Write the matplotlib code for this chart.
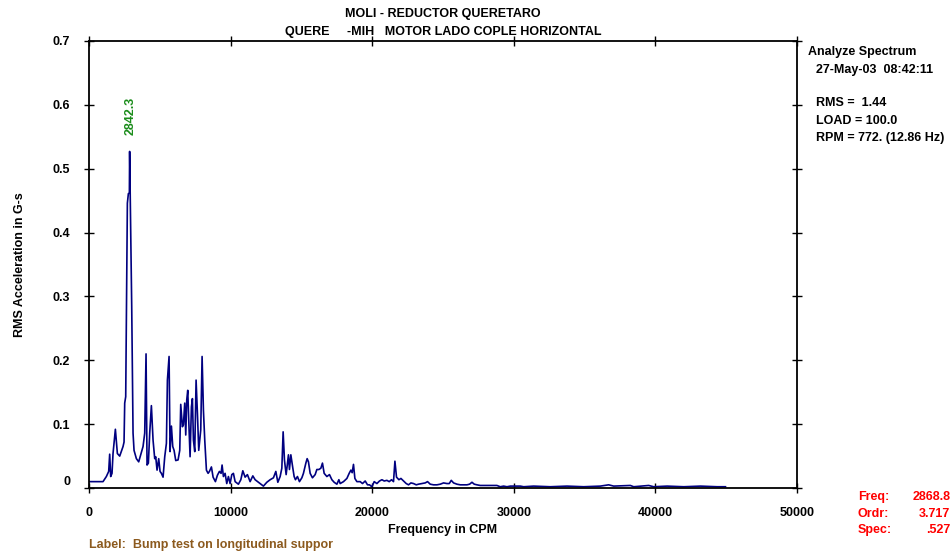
"""
Vibration spectrum - MOLI reductor Queretaro, motor lado cople horizontal
"""

import matplotlib
matplotlib.use("Agg")
import matplotlib.pyplot as plt

plt.rcParams["font.family"] = ["Liberation Sans", "DejaVu Sans"]
plt.rcParams["font.weight"] = "bold"

# spectrum points (CPM, G-s RMS)
freq_cpm = [0, 989, 1225, 1390, 1460, 1531, 1625, 1696, 1862, 2003, 2168, 2403, 2474,
            2521, 2592, 2709, 2780, 2850, 2869, 3016, 3110, 3180, 3345, 3510, 3651,
            3816, 3934, 4028, 4099, 4193, 4287, 4405, 4523, 4640, 4711, 4805, 4923,
            5017, 5112, 5230, 5348, 5466, 5537, 5654, 5724, 5819, 5913, 6007, 6125,
            6290, 6408, 6478, 6596, 6667, 6761, 6832, 6903, 6973, 7044, 7138, 7232,
            7303, 7374, 7468, 7562, 7656, 7750, 7891, 7986, 8080, 8174, 8292, 8410,
            8504, 8645, 8763, 8927, 9068, 9209, 9328, 9398, 9492, 9611, 9728, 9845,
            9964, 10085, 10198, 10319, 10551, 10721, 10862, 11025, 11187, 11378,
            11569, 11731, 11965, 12318, 12558, 12791, 13025, 13194, 13335, 13498,
            13618, 13710, 13802, 13922, 14014, 14085, 14155, 14254, 14325, 14395,
            14487, 14579, 14720, 14862, 15032, 15144, 15314, 15406, 15498, 15618,
            15780, 15971, 16091, 16233, 16374, 16487, 16607, 16798, 16982, 17152,
            17314, 17505, 17646, 17738, 17972, 18212, 18374, 18494, 18586, 18678,
            18777, 18918, 19152, 19314, 19505, 19668, 19809, 19979, 20141, 20332,
            20516, 20686, 20848, 21039, 21201, 21364, 21505, 21604, 21717, 21887,
            22028, 22212, 22402, 22565, 22734, 22918, 23109, 23271, 23512, 23745,
            23908, 24098, 24332, 24572, 24806, 25039, 25279, 25442, 25583, 25746,
            25986, 26219, 26452, 26692, 26876, 27046, 27208, 27399, 27630, 28101,
            28572, 28808, 29044, 29280, 29516, 29752, 29988, 30224, 30460, 30695,
            31400, 32578, 33756, 34934, 36112, 36700, 37053, 38231, 38467, 39527,
            39880, 40826, 42000, 43180, 44360, 44950]
rms_g = [0.010, 0.010, 0.018, 0.026, 0.053, 0.018, 0.023, 0.054, 0.092, 0.054, 0.050,
         0.065, 0.072, 0.133, 0.143, 0.446, 0.461, 0.462, 0.527, 0.284, 0.086, 0.059,
         0.046, 0.041, 0.052, 0.065, 0.086, 0.210, 0.036, 0.039, 0.086, 0.129, 0.075,
         0.046, 0.049, 0.028, 0.046, 0.026, 0.023, 0.017, 0.049, 0.070, 0.169, 0.206,
         0.057, 0.097, 0.065, 0.059, 0.043, 0.044, 0.059, 0.131, 0.096, 0.099, 0.133,
         0.083, 0.138, 0.153, 0.106, 0.049, 0.127, 0.140, 0.075, 0.057, 0.169, 0.117,
         0.059, 0.091, 0.206, 0.122, 0.075, 0.028, 0.023, 0.026, 0.033, 0.017, 0.010,
         0.020, 0.026, 0.023, 0.036, 0.018, 0.023, 0.007, 0.018, 0.007, 0.021, 0.023,
         0.010, 0.006, 0.013, 0.027, 0.017, 0.021, 0.010, 0.019, 0.013, 0.009, 0.003,
         0.009, 0.013, 0.016, 0.026, 0.009, 0.018, 0.031, 0.088, 0.044, 0.021, 0.039,
         0.052, 0.029, 0.052, 0.041, 0.031, 0.018, 0.013, 0.018, 0.010, 0.016, 0.023,
         0.039, 0.046, 0.041, 0.023, 0.016, 0.021, 0.029, 0.029, 0.031, 0.039, 0.023,
         0.018, 0.021, 0.013, 0.009, 0.006, 0.013, 0.007, 0.010, 0.015, 0.023, 0.028,
         0.024, 0.037, 0.015, 0.010, 0.010, 0.007, 0.011, 0.005, 0.005, 0.002, 0.010,
         0.007, 0.011, 0.013, 0.011, 0.012, 0.010, 0.013, 0.010, 0.042, 0.017, 0.013,
         0.015, 0.011, 0.007, 0.005, 0.008, 0.007, 0.005, 0.006, 0.007, 0.008, 0.010,
         0.006, 0.005, 0.005, 0.006, 0.008, 0.007, 0.007, 0.012, 0.008, 0.006, 0.005,
         0.005, 0.005, 0.006, 0.009, 0.006, 0.005, 0.004, 0.004, 0.004, 0.004, 0.002,
         0.003, 0.002, 0.003, 0.003, 0.003, 0.003, 0.002, 0.003, 0.002, 0.003, 0.002,
         0.003, 0.005, 0.003, 0.004, 0.002, 0.004, 0.002, 0.003, 0.002, 0.003, 0.002,
         0.002]

x_ticks = [0, 10000, 20000, 30000, 40000, 50000]
y_ticks = [0, 0.1, 0.2, 0.3, 0.4, 0.5, 0.6, 0.7]
y_tick_labels = ["0", "0.1", "0.2", "0.3", "0.4", "0.5", "0.6", "0.7"]

peak_label = "2842.3"
peak_freq = 2869
peak_amp = 0.527

fig = plt.figure(figsize=(9.53, 5.53), dpi=100)
ax = fig.add_axes([0.0934, 0.1175, 0.7429, 0.8084])

ax.plot(freq_cpm, rms_g, color="#000080", linewidth=1.2)

ax.set_xlim(0, 50000)
ax.set_ylim(0, 0.7)
ax.set_xticks(x_ticks)
ax.set_xticklabels([str(t) for t in x_ticks], fontsize=9, fontweight="bold")
ax.set_yticks(y_ticks)
ax.set_yticklabels(y_tick_labels, fontsize=9, fontweight="bold")
ax.get_yticklabels()[0].set_va("bottom")

ax.tick_params(direction="inout", length=7, width=1, top=True, right=True,
               labeltop=False, labelright=False)
ax.tick_params(axis="x", pad=10)
ax.tick_params(axis="y", pad=10)
for s in ax.spines.values():
    s.set_linewidth(1.3)

ax.set_xlabel("Frequency in CPM", fontsize=9, fontweight="bold", labelpad=4)
ax.set_ylabel("RMS Acceleration in G-s", fontsize=9, fontweight="bold", labelpad=19)

# peak marker label
ax.annotate(peak_label, xy=(peak_freq, peak_amp), xytext=(1, 12),
            textcoords="offset points", rotation=90, ha="center", va="bottom",
            color="#1a8c1a", fontsize=9, fontweight="bold")

# titles
fig.text(0.465, 0.974, "MOLI - REDUCTOR QUERETARO", ha="center", va="center",
         fontsize=9, fontweight="bold")
fig.text(0.465, 0.943, "QUERE     -MIH   MOTOR LADO COPLE HORIZONTAL",
         ha="center", va="center", fontsize=9, fontweight="bold")

# info block on the right
fig.text(0.848, 0.906, "Analyze Spectrum", ha="left", va="center", fontsize=9, fontweight="bold")
fig.text(0.856, 0.874, "27-May-03  08:42:11", ha="left", va="center", fontsize=9, fontweight="bold")
fig.text(0.856, 0.813, "RMS =  1.44", ha="left", va="center", fontsize=9, fontweight="bold")
fig.text(0.856, 0.782, "LOAD = 100.0", ha="left", va="center", fontsize=9, fontweight="bold")
fig.text(0.856, 0.751, "RPM = 772. (12.86 Hz)", ha="left", va="center", fontsize=9, fontweight="bold")

# cursor readout
cursor_names = ["Freq:", "Ordr:", "Spec:"]
cursor_values = ["2868.8", "3.717", ".527"]
for i in range(3):
    yy = 0.101 - i * 0.030
    fig.text(0.900, yy, cursor_names[i], ha="left", va="center", color="#ff0000",
             fontsize=9, fontweight="bold")
    fig.text(0.997, yy, cursor_values[i], ha="right", va="center", color="#ff0000",
             fontsize=9, fontweight="bold")

fig.text(0.0934, 0.014, "Label:  Bump test on longitudinal suppor", ha="left", va="center",
         color="#8c5a1e", fontsize=9, fontweight="bold")

fig.savefig("out.png", dpi=100)
